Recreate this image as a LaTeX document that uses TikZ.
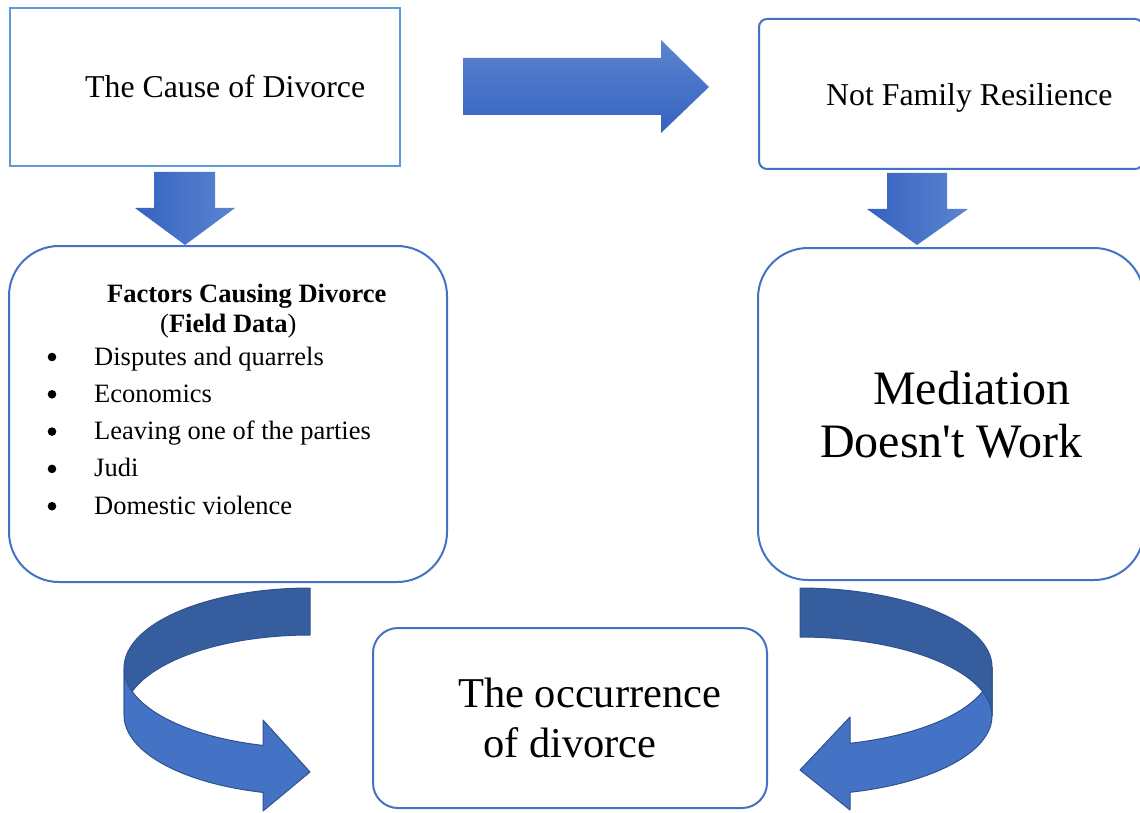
\documentclass[tikz,border=0pt]{standalone}
\usepackage{fontspec}
\setmainfont{Liberation Serif}[Ligatures=TeXOff]
\definecolor{lightframe}{HTML}{5B9BD5}
\definecolor{frameblue}{HTML}{4472C4}
\definecolor{arrowdark}{HTML}{3562C0}
\definecolor{arrowlight}{HTML}{5B85CF}
\definecolor{banddark}{HTML}{365E9E}
\definecolor{bandlight}{HTML}{4472C4}
\definecolor{bandedge}{HTML}{2F528F}
\begin{document}
\begin{tikzpicture}[x=1pt,y=-1pt,
  sqbox/.style={draw=lightframe, line width=2pt, fill=white, inner sep=0pt},
  rbox/.style={draw=frameblue, line width=2pt, fill=white, inner sep=0pt},
  txt/.style={anchor=base west, inner sep=0pt, font=\fontsize{31.8}{38}\selectfont},
  listtxt/.style={anchor=base west, inner sep=0pt, font=\fontsize{26.5}{32}\selectfont},
  bigtxt/.style={anchor=base west, inner sep=0pt, font=\fontsize{48}{56}\selectfont},
  midtxt/.style={anchor=base west, inner sep=0pt, font=\fontsize{42.5}{50}\selectfont},
  bandback/.style={fill=banddark, draw=bandedge, line width=1pt, line join=round},
  bandfront/.style={fill=bandlight, draw=bandedge, line width=1pt, line join=round}
]
\useasboundingbox (0,0) rectangle (1140,813);

% boxes
\node[sqbox, minimum width=390pt, minimum height=158pt] (cause) at (205,87) {};
\node[rbox, rounded corners=8pt, minimum width=384pt, minimum height=150pt] (resil) at (951,94) {};
\node[rbox, rounded corners=50pt, minimum width=438pt, minimum height=336pt] (factors) at (228,414) {};
\node[rbox, rounded corners=50pt, minimum width=386pt, minimum height=332pt] (mediation) at (951,414) {};
\node[rbox, rounded corners=25pt, minimum width=394pt, minimum height=180pt] (occur) at (570,718) {};

% texts
\node[txt] (tcause) at (85,98) {The Cause of Divorce};
\node[txt] (tresil) at (826,106) {Not Family Resilience};
\node[listtxt, font=\fontsize{26.5}{32}\selectfont\bfseries] (tfact) at (107,302) {Factors Causing Divorce};
\node[listtxt] (tfield) at (160,332) {(\textbf{Field Data})};
\foreach \t [count=\i] in {Disputes and quarrels, Economics, Leaving one of the parties, Judi, Domestic violence}{
  \node[listtxt] (item\i) at (94,{365+37.3*(\i-1)}) {\t};
  \fill ({52},{365+37.3*(\i-1)-8}) circle[radius=4.3pt];
}
\node[bigtxt] (tmed1) at (873,404) {Mediation};
\node[bigtxt] (tmed2) at (820,457) {Doesn'{}t Work};
\node[midtxt] (tocc1) at (458,707) {The occurrence};
\node[midtxt] (tocc2) at (483,757) {of divorce};

% straight block arrows
\shade[top color=arrowlight, bottom color=arrowdark]
  (463,58) -- (661,58) -- (661,40) -- (709,87) -- (661,133) -- (661,115) -- (463,115) -- cycle;
\shade[left color=arrowdark, right color=arrowlight]
  (154,172) -- (215,172) -- (215,208) -- (235,208) -- (185,245) -- (135,208) -- (154,208) -- cycle;
\shade[left color=arrowdark, right color=arrowlight]
  (887,173) -- (947,173) -- (947,209) -- (968,209) -- (917,245) -- (867,209) -- (887,209) -- cycle;

% left curved arrow
\path[bandback]
  plot[domain=90:180, samples=40] ({310+186*cos(\x)},{668-80*sin(\x)})
  -- (124,715)
  -- plot[domain=180:90, samples=40] ({310+186*cos(\x)},{715-80*sin(\x)})
  -- cycle;
\path[bandfront]
  plot[domain=180:255.4, samples=40] ({310+186*cos(\x)},{668-80*sin(\x)})
  -- (263,720) -- (310,772) -- (263,811)
  -- plot[domain=255.4:180, samples=40] ({310+186*cos(\x)},{715-80*sin(\x)})
  -- cycle;

% right curved arrow
\path[bandfront]
  plot[domain=180:254.9, samples=40] ({800-192*cos(\x)},{667-79*sin(\x)})
  -- (850,717) -- (800,770) -- (850,810)
  -- plot[domain=254.9:180, samples=40] ({800-192*cos(\x)},{716-79*sin(\x)})
  -- cycle;
\path[bandback]
  plot[domain=90:180, samples=40] ({800-192*cos(\x)},{667-79*sin(\x)})
  -- (992,716)
  -- plot[domain=180:90, samples=40] ({800-192*cos(\x)},{716-79*sin(\x)})
  -- cycle;
\end{tikzpicture}
\end{document}
